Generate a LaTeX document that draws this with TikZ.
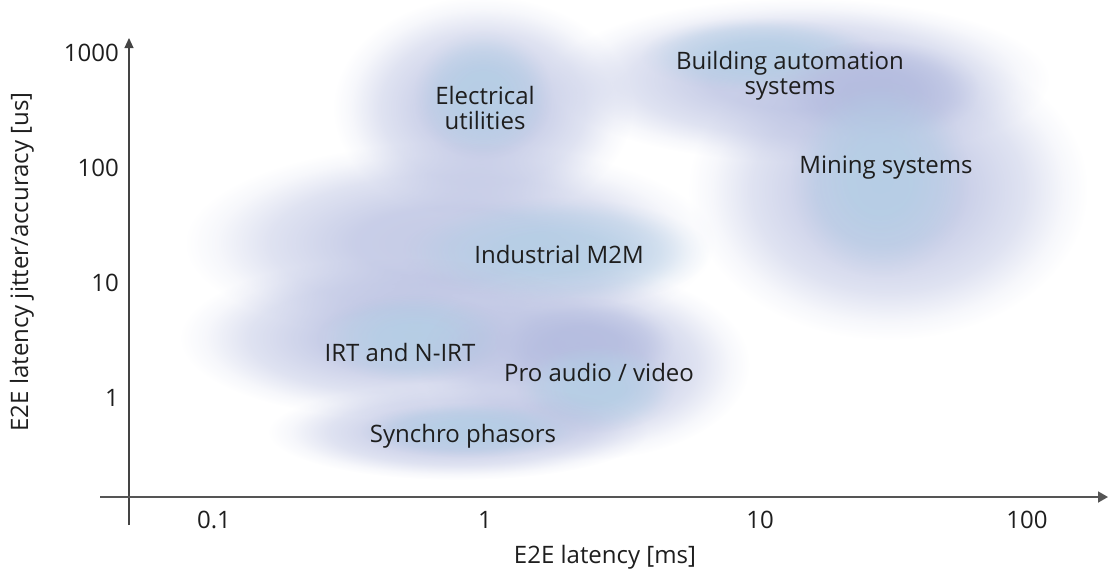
\documentclass[tikz,border=0pt]{standalone}
\usepackage{fontspec}
\setmainfont{Open Sans}
\usetikzlibrary{fadings,arrows.meta}
\pgfdeclareradialshading{blobshade}{\pgfpoint{0bp}{0bp}}{color(0bp)=(white); color(9bp)=(white!94!black); color(17bp)=(white!55!black); color(22bp)=(white!15!black); color(25bp)=(black); color(50bp)=(black)}
\pgfdeclarefading{blobfade}{\pgfuseshading{blobshade}}
\definecolor{bblue}{RGB}{178,206,229}
\definecolor{blav}{RGB}{178,186,222}
\definecolor{axisgray}{RGB}{85,85,85}
\definecolor{txt}{RGB}{30,30,30}
\tikzset{
  haze/.style={fill=#1, path fading=blobfade, fill opacity=0.75},
  core/.style={fill=#1, path fading=blobfade, fill opacity=0.8},
  lab/.style={font=\fontsize{24}{25}\selectfont, text=txt, align=center, inner sep=0pt},
  tick/.style={font=\fontsize{24}{25}\selectfont, text=txt, inner sep=0pt},
  xaxisline/.style={draw=axisgray, line width=1.8pt, -{Triangle[length=10pt,width=11pt]}},
  yaxisline/.style={draw=axisgray!80!black, line width=1.1pt, -{Triangle[length=10pt,width=9pt]}}
}
\begin{document}
\begin{tikzpicture}[x=1pt,y=-1pt]
\useasboundingbox (0,0) rectangle (1108,573);
% haze blobs
\fill[haze=blav] (483,108) ellipse [x radius=150, y radius=112];
\fill[core=bblue] (483,95) ellipse [x radius=70, y radius=65];
\fill[haze=blav] (800,80) ellipse [x radius=250, y radius=82];
\fill[core=bblue] (760,55) ellipse [x radius=120, y radius=38];
\fill[core=blav] (880,90) ellipse [x radius=100, y radius=50];
\fill[haze=blav] (888,190) ellipse [x radius=200, y radius=150];
\fill[core=bblue] (880,178) ellipse [x radius=90, y radius=100];
\fill[haze=blav] (450,243) ellipse [x radius=265, y radius=100];
\fill[core=bblue] (555,252) ellipse [x radius=155, y radius=55];
\fill[haze=blav] (395,338) ellipse [x radius=215, y radius=80];
\fill[core=bblue] (415,338) ellipse [x radius=100, y radius=45];
\fill[haze=blav] (585,365) ellipse [x radius=165, y radius=95];
\fill[core=blav] (585,342) ellipse [x radius=90, y radius=45];
\fill[core=bblue] (595,388) ellipse [x radius=80, y radius=45];
\fill[haze=blav] (458,432) ellipse [x radius=190, y radius=48];
\fill[core=bblue] (470,430) ellipse [x radius=110, y radius=28];
% axes
\coordinate (yb) at (129,525);
\coordinate (yt) at (129,38);
\coordinate (xl) at (100,497);
\coordinate (xr) at (1108,497);
\draw[yaxisline] (yb) -- (yt);
\draw[xaxisline] (xl) -- (xr);
% tick labels
\node[tick, anchor=east] (y1000) at (119,53) {1000};
\node[tick, anchor=east] (y100) at (119,168) {100};
\node[tick, anchor=east] (y10) at (119,283) {10};
\node[tick, anchor=east] (y1) at (119,398) {1};
\node[tick] (x01) at (214,520) {0.1};
\node[tick] (x1) at (485,520) {1};
\node[tick] (x10) at (760,520) {10};
\node[tick] (x100) at (1027,520) {100};
\node[tick] (xlabel) at (605,557) {E2E latency [ms]};
\node[tick, rotate=90] (ylabel) at (22,262) {E2E latency jitter/accuracy [us]};
% region labels
\node[lab] (elec) at (485,108) {Electrical\\utilities};
\node[lab] (bldg) at (790,76) {Building automation\\systems};
\node[lab] (mine) at (886,168) {Mining systems};
\node[lab] (m2m) at (559,254) {Industrial M2M};
\node[lab] (irt) at (400,352) {IRT and N-IRT};
\node[lab] (audio) at (599,372) {Pro audio / video};
\node[lab] (sync) at (463,436) {Synchro phasors};
\end{tikzpicture}
\end{document}
